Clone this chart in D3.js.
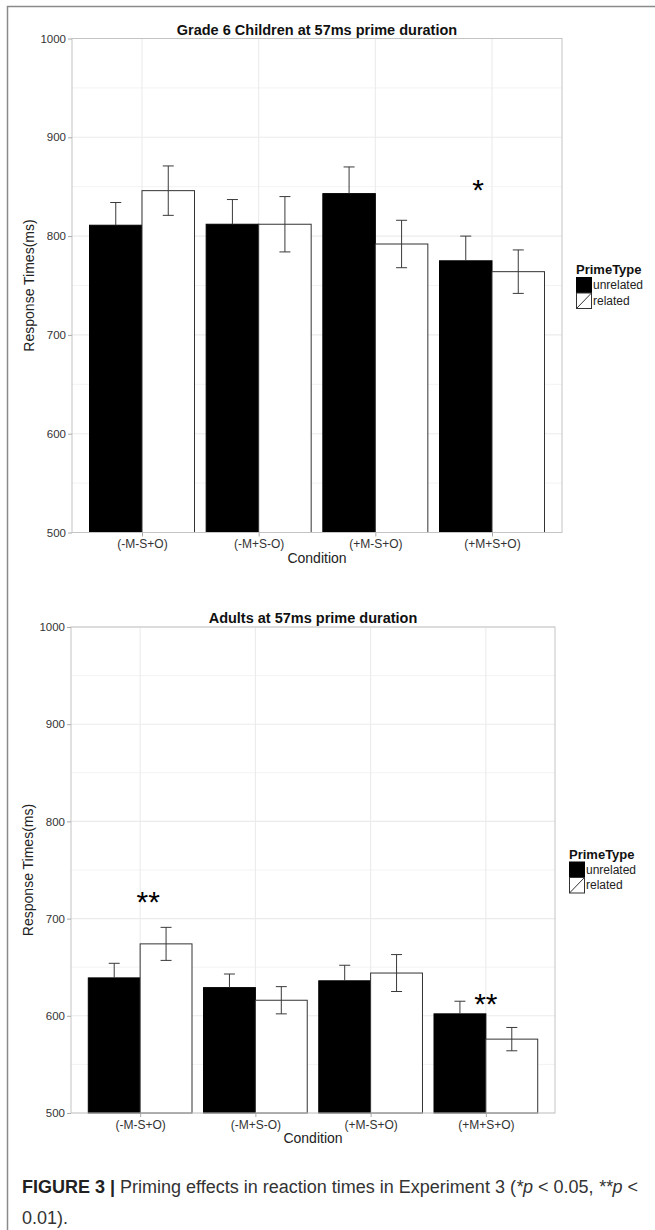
<!DOCTYPE html>
<html><head><meta charset="utf-8">
<script src="https://cdn.jsdelivr.net/npm/d3@7"></script>
<style>body{margin:0;background:#fff}svg{display:block}</style>
</head><body>
<svg id="c" width="655" height="1230"></svg>
<script>
const categories = ["(-M-S+O)", "(-M+S-O)", "(+M-S+O)", "(+M+S+O)"];
const primeTypes = ["unrelated", "related"];
const yTicks = [500, 600, 700, 800, 900, 1000];

const childTitle = "Grade 6 Children at 57ms prime duration";
const childUnrelated = [811, 812, 843, 775];
const childRelated = [846, 812, 792, 764];
const childUnrelatedSE = [23, 25, 27, 25];
const childRelatedSE = [25, 28, 24, 22];
const childStars = [{cat: "(+M+S+O)", value: 850, label: "*"}];

const adultTitle = "Adults at 57ms prime duration";
const adultUnrelated = [639, 629, 636, 602];
const adultRelated = [674, 616, 644, 576];
const adultUnrelatedSE = [15, 14, 16, 13];
const adultRelatedSE = [17, 14, 19, 12];
const adultStars = [{cat: "(-M-S+O)", value: 720, label: "**"}, {cat: "(+M+S+O)", value: 615, label: "**"}];

const captionBold = "FIGURE 3 |";
const captionLine1 = " Priming effects in reaction times in Experiment 3 (";
const captionLine2 = "0.01).";

const svg = d3.select("#c");
const FONT = "'Liberation Sans', Arial, sans-serif";

// outer frame
svg.append("path").attr("d", "M7.5,1230 L7.5,6.5 L655,6.5").attr("fill", "none").attr("stroke", "#8a8a8a").attr("stroke-width", 1.5);

function panel(cfg) {
  const g = svg.append("g");
  // ggplot discrete scale: positions 1..4 with range 0.4 .. 4.6
  const unit = (cfg.right - cfg.left) / 4.2;
  const cx = c => cfg.left + (categories.indexOf(c) + 0.6) * unit;
  const y = d3.scaleLinear().domain([500, 1000]).range([cfg.bottom, cfg.top]);
  const sub = d3.scaleBand().domain(primeTypes).range([-0.45 * unit, 0.45 * unit]);

  // grid
  const minor = d3.range(550, 1000, 100);
  g.selectAll(".gmin").data(minor).join("line")
    .attr("x1", cfg.left).attr("x2", cfg.right).attr("y1", d => y(d)).attr("y2", d => y(d))
    .attr("stroke", "#f3f3f3").attr("stroke-width", 1);
  g.selectAll(".gmaj").data(yTicks).join("line")
    .attr("x1", cfg.left).attr("x2", cfg.right).attr("y1", d => y(d)).attr("y2", d => y(d))
    .attr("stroke", "#ebebeb").attr("stroke-width", 1.1);
  g.selectAll(".gv").data(categories).join("line")
    .attr("x1", d => cx(d)).attr("x2", d => cx(d)).attr("y1", cfg.top).attr("y2", cfg.bottom)
    .attr("stroke", "#ebebeb").attr("stroke-width", 1.1);

  // bars
  const rows = [];
  categories.forEach((c, i) => {
    rows.push({cat: c, type: "unrelated", v: cfg.unrel[i], se: cfg.unrelSE[i]});
    rows.push({cat: c, type: "related", v: cfg.rel[i], se: cfg.relSE[i]});
  });
  g.selectAll(".bar").data(rows).join("rect")
    .attr("x", d => cx(d.cat) + sub(d.type))
    .attr("width", sub.bandwidth())
    .attr("y", d => y(d.v)).attr("height", d => y(500) - y(d.v))
    .attr("fill", d => d.type === "unrelated" ? "#000" : "#fff")
    .attr("stroke", d => d.type === "unrelated" ? "#000" : "#333").attr("stroke-width", 1);

  // error bars (part inside a black bar is black, i.e. invisible)
  const ew = 5.5;
  const eb = g.selectAll(".eb").data(rows).join("g").attr("stroke-width", 1).attr("fill", "none");
  eb.append("path").attr("stroke", "#3a3a3a").attr("d", d => {
    const xc = cx(d.cat) + sub(d.type) + sub.bandwidth() / 2;
    const y1 = y(d.v + d.se), y0 = y(d.v - d.se), ym = y(d.v);
    if (d.type === "unrelated") return `M${xc-ew},${y1}H${xc+ew}M${xc},${y1}V${ym}`;
    return `M${xc-ew},${y1}H${xc+ew}M${xc},${y1}V${y0}M${xc-ew},${y0}H${xc+ew}`;
  });

  // panel border
  g.append("rect").attr("x", cfg.left).attr("y", cfg.top).attr("width", cfg.right - cfg.left).attr("height", cfg.bottom - cfg.top)
    .attr("fill", "none").attr("stroke", "#c4c4c4").attr("stroke-width", 1);

  // axes
  const ya = g.append("g").attr("transform", `translate(${cfg.left},0)`)
    .call(d3.axisLeft(y).tickValues(yTicks).tickSize(4).tickPadding(2).tickFormat(d3.format("d")));
  ya.select(".domain").remove();
  ya.selectAll("line").attr("stroke", "#aaa");
  ya.selectAll("text").attr("fill", "#333").style("font", `11.5px ${FONT}`);

  const xa = g.append("g").attr("transform", `translate(0,${cfg.bottom})`)
    .call(d3.axisBottom(d3.scalePoint().domain(categories).range([cx(categories[0]), cx(categories[3])])).tickSize(4).tickPadding(3));
  xa.select(".domain").remove();
  xa.selectAll("line").attr("stroke", "#aaa");
  xa.selectAll("text").attr("fill", "#333").style("font", `12px ${FONT}`);

  // titles
  const mid = (cfg.left + cfg.right) / 2;
  g.append("text").attr("x", mid).attr("y", cfg.top - 4).attr("text-anchor", "middle")
    .style("font", `bold 14.5px ${FONT}`).attr("fill", "#111").text(cfg.title);
  g.append("text").attr("x", mid).attr("y", cfg.bottom + 30).attr("text-anchor", "middle")
    .style("font", `14px ${FONT}`).attr("fill", "#222").text("Condition");
  g.append("text").attr("transform", `translate(${cfg.left - 38},${(cfg.top + cfg.bottom) / 2}) rotate(-90)`)
    .attr("text-anchor", "middle").style("font", `14px ${FONT}`).attr("fill", "#222").text("Response Times(ms)");

  // stars
  g.selectAll(".star").data(cfg.stars).join("text")
    .attr("x", d => cx(d.cat) - (d.label === "*" ? 0.12 * unit : 0) + (d.label === "**" && d.cat === categories[0] ? 0.07*unit : 0))
    .attr("y", d => y(d.value) + 13).attr("text-anchor", "middle")
    .style("font", `30px ${FONT}`).attr("fill", "#000").text(d => d.label);

  // legend
  const lx = cfg.right + 14, lc = (cfg.top + cfg.bottom) / 2;
  const lg = g.append("g");
  lg.append("text").attr("x", lx).attr("y", lc - 11.5).style("font", `bold 13px ${FONT}`).attr("fill", "#111").text("PrimeType");
  primeTypes.forEach((t, i) => {
    const ky = lc - 8 + i * 15.5;
    lg.append("rect").attr("x", lx + 0.5).attr("y", ky).attr("width", 15).attr("height", 15.5)
      .attr("fill", t === "unrelated" ? "#000" : "#fff").attr("stroke", t === "unrelated" ? "#000" : "#333").attr("stroke-width", 1);
    if (t === "related") lg.append("line").attr("x1", lx + 0.5).attr("y1", ky + 15.5).attr("x2", lx + 15.5).attr("y2", ky)
      .attr("stroke", "#333").attr("stroke-width", 1);
    lg.append("text").attr("x", lx + 17).attr("y", ky + 7.75).attr("dy", "0.35em")
      .style("font", `12px ${FONT}`).attr("fill", "#222").text(t);
  });
}

panel({left: 72, right: 562, top: 38.5, bottom: 532.5, title: childTitle,
  unrel: childUnrelated, rel: childRelated, unrelSE: childUnrelatedSE, relSE: childRelatedSE, stars: childStars});
panel({left: 71, right: 555, top: 627, bottom: 1113, title: adultTitle,
  unrel: adultUnrelated, rel: adultRelated, unrelSE: adultUnrelatedSE, relSE: adultRelatedSE, stars: adultStars});

// caption
const cap = svg.append("text").attr("x", 22).attr("y", 1193).style("font", `18px ${FONT}`).attr("fill", "#333");
cap.append("tspan").style("font-weight", "bold").attr("fill", "#222").text(captionBold);
cap.append("tspan").text(captionLine1);
cap.append("tspan").style("font-style", "italic").text("*p");
cap.append("tspan").text(" < 0.05, ");
cap.append("tspan").style("font-style", "italic").text("**p");
cap.append("tspan").text(" <");
svg.append("text").attr("x", 22).attr("y", 1224).style("font", `18px ${FONT}`).attr("fill", "#333").text(captionLine2);
</script>
</body></html>
